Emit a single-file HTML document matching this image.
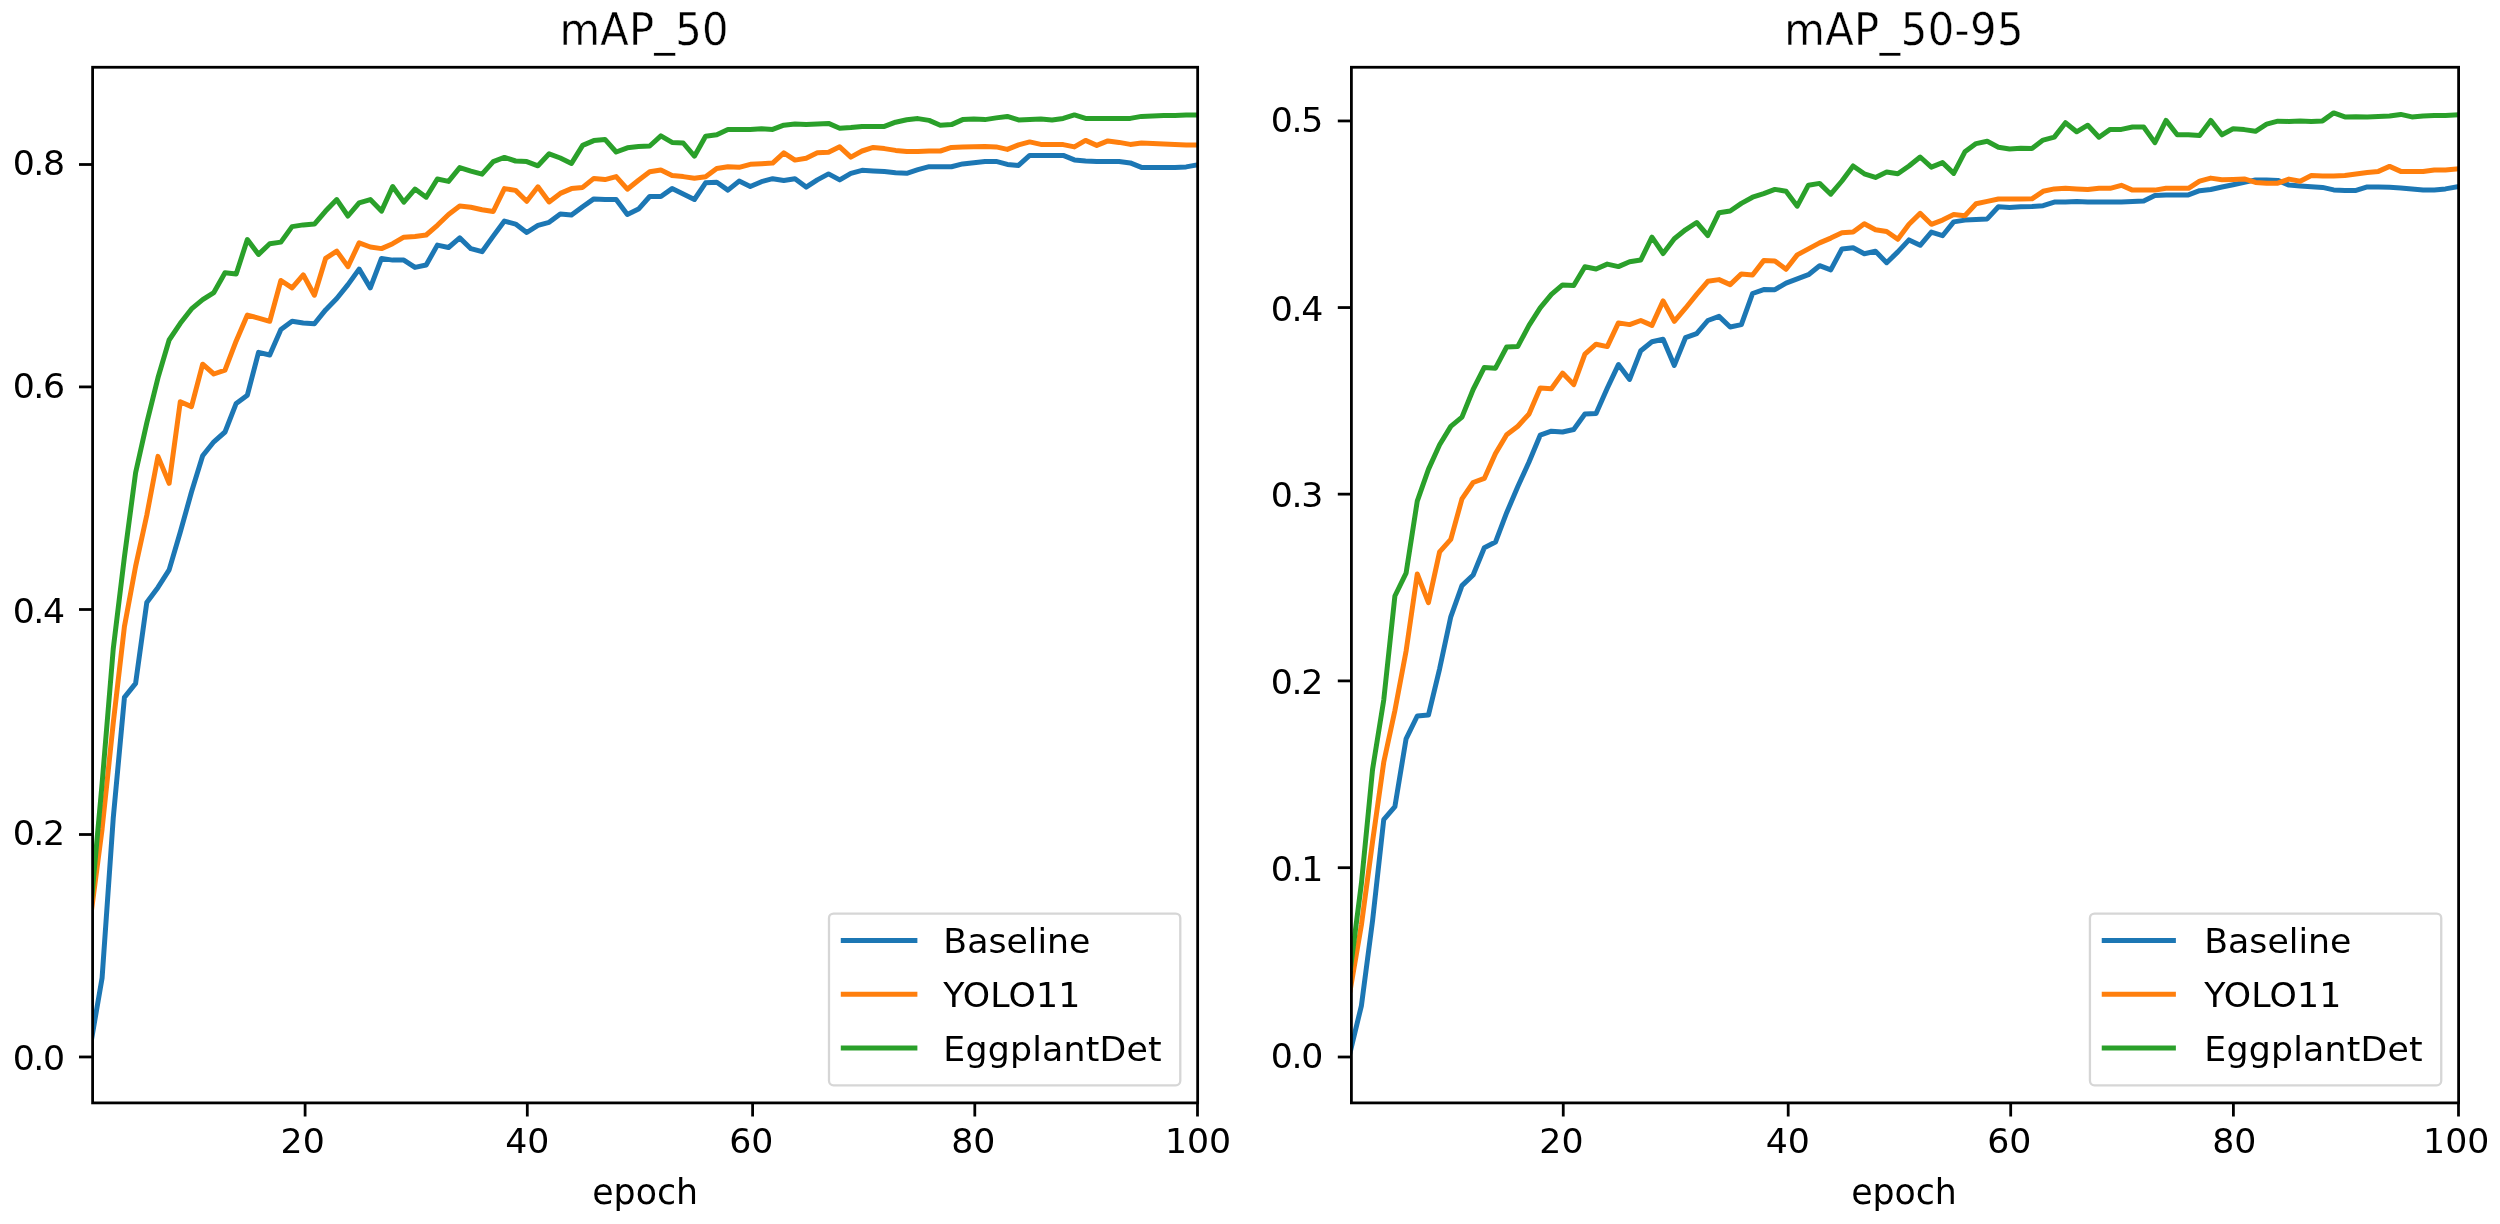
<!DOCTYPE html>
<html lang="en"><head><meta charset="utf-8"><title>mAP curves</title>
<style>
html,body{margin:0;padding:0;background:#fff;}
body{width:2500px;height:1224px;overflow:hidden;}
svg{display:block;}
.t{fill:#000;stroke:#fff;stroke-width:0.0px;paint-order:fill stroke;}
.tt{stroke-width:0.4px;}
</style></head><body>
<svg width="2500" height="1224" viewBox="0 0 2500 1224" font-family="'DejaVu Sans', 'Liberation Sans', sans-serif">
<defs><filter id="soft" x="0" y="0" width="2500" height="1224" filterUnits="userSpaceOnUse"><feGaussianBlur stdDeviation="0.6"/></filter></defs>
<rect width="2500" height="1224" fill="#fff"/>
<g filter="url(#soft)">
<rect width="2500" height="1224" fill="#fff"/>
<clipPath id="clip1"><rect x="92.6" y="67.26" width="1105.05" height="1035.64"/></clipPath>
<g clip-path="url(#clip1)" fill="none" stroke-width="5.0" stroke-linejoin="round" stroke-linecap="square">
<polyline stroke="#1f77b4" points="90.9,1043 102.08,978 113.25,818.09 124.43,697.4 135.6,683.4 146.78,602.6 157.96,587.46 169.13,569.9 180.31,532.07 191.48,492.04 202.66,455.79 213.84,441.8 225.01,432 236.19,403.4 247.36,395.2 258.54,352.4 269.72,355 280.89,329.4 292.07,321.3 303.24,323 314.42,323.8 325.6,309.9 336.77,298.5 347.95,284.6 359.12,269.1 370.3,287.9 381.48,258.4 392.65,260.1 403.83,260.1 415,267.4 426.18,265 437.36,245.1 448.53,247.5 459.71,237.9 470.88,248.7 482.06,251.7 493.24,236.1 504.41,221.1 515.59,224.1 526.76,232.5 537.94,225.3 549.12,222.3 560.29,213.9 571.47,215.1 582.64,206.7 593.82,198.9 605,199.5 616.17,199.5 627.35,214.5 638.52,209.1 649.7,196.5 660.88,196.5 672.05,188.6 683.23,194 694.4,199.5 705.58,182.8 716.76,182.3 727.93,190.1 739.11,181.1 750.28,186.5 761.46,181.7 772.64,178.7 783.81,180.5 794.99,178.7 806.16,187.1 817.34,179.9 828.52,173.9 839.69,179.9 850.87,173.3 862.04,170.3 873.22,170.9 884.4,171.5 895.57,172.7 906.75,173.3 917.92,169.7 929.1,166.7 940.28,166.7 951.45,166.7 962.63,163.9 973.8,162.7 984.98,161.6 996.16,161.4 1007.33,164.4 1018.51,165.4 1029.68,155.4 1040.86,155.4 1052.04,155.4 1063.21,155.4 1074.39,159.9 1085.56,160.9 1096.74,161.4 1107.92,161.4 1119.09,161.4 1130.27,162.9 1141.44,167.4 1152.62,167.6 1163.8,167.6 1174.97,167.6 1186.15,166.9 1197.32,164.9"/>
<polyline stroke="#ff7f0e" points="90.9,915 102.08,829.06 113.25,722.98 124.43,626.45 135.6,566.35 146.78,515.19 157.96,456.4 169.13,483.3 180.31,401.7 191.48,406.6 202.66,364.2 213.84,374 225.01,370.2 236.19,340.9 247.36,315.1 258.54,318.1 269.72,321.3 280.89,280.5 292.07,287.9 303.24,274.8 314.42,295.2 325.6,258.4 336.77,251.1 347.95,266.6 359.12,242.9 370.3,247 381.48,248.6 392.65,243.7 403.83,237.2 415,236.4 426.18,235 437.36,225.3 448.53,214.5 459.71,206.1 470.88,207.3 482.06,209.7 493.24,211.5 504.41,188.6 515.59,190.4 526.76,201.3 537.94,186.8 549.12,201.9 560.29,193.4 571.47,188.6 582.64,187.4 593.82,178.4 605,179.6 616.17,176.6 627.35,189.2 638.52,180.2 649.7,171.8 660.88,170 672.05,175.4 683.23,176.6 694.4,178.2 705.58,176.8 716.76,168.5 727.93,166.7 739.11,167.3 750.28,164.3 761.46,163.7 772.64,163.1 783.81,152.8 794.99,160.1 806.16,158.3 817.34,152.8 828.52,152.2 839.69,146.8 850.87,157.1 862.04,151 873.22,147.4 884.4,148.6 895.57,150.4 906.75,151.6 917.92,151.6 929.1,151 940.28,151 951.45,147.4 962.63,146.9 973.8,146.7 984.98,146.4 996.16,146.9 1007.33,149.4 1018.51,144.9 1029.68,141.9 1040.86,144.4 1052.04,144.4 1063.21,144.6 1074.39,146.9 1085.56,140.4 1096.74,145.4 1107.92,140.9 1119.09,142.4 1130.27,144.4 1141.44,142.9 1152.62,143.4 1163.8,143.9 1174.97,144.4 1186.15,144.9 1197.32,144.9"/>
<polyline stroke="#2ca02c" points="90.9,907.19 102.08,783.64 113.25,648.86 124.43,556.88 135.6,472.77 146.78,422.83 157.96,377.83 169.13,340 180.31,323.3 191.48,308.95 202.66,299.6 213.84,292.54 225.01,272.7 236.19,273.9 247.36,239.6 258.54,254.4 269.72,243.7 280.89,242.1 292.07,226.6 303.24,224.9 314.42,224.1 325.6,211.1 336.77,199.6 347.95,216 359.12,202.9 370.3,199.6 381.48,211.1 392.65,186.5 403.83,202.1 415,189.1 426.18,197.2 437.36,179 448.53,181.4 459.71,167.6 470.88,171.2 482.06,174.2 493.24,161.6 504.41,157.4 515.59,161 526.76,161.6 537.94,165.8 549.12,153.8 560.29,158 571.47,163.4 582.64,145.4 593.82,140.6 605,139.4 616.17,152 627.35,147.8 638.52,146.6 649.7,146 660.88,135.8 672.05,142.4 683.23,143 694.4,156.2 705.58,136.2 716.76,134.8 727.93,129.4 739.11,129.4 750.28,129.4 761.46,128.8 772.64,129.4 783.81,125.2 794.99,124 806.16,124.6 817.34,124 828.52,123.4 839.69,128.2 850.87,127.6 862.04,126.4 873.22,126.4 884.4,126.4 895.57,122.2 906.75,119.8 917.92,118.6 929.1,120.4 940.28,125.2 951.45,124.6 962.63,119.6 973.8,119 984.98,119.6 996.16,117.9 1007.33,116.4 1018.51,119.9 1029.68,119.4 1040.86,118.9 1052.04,119.9 1063.21,118.4 1074.39,114.9 1085.56,118.4 1096.74,118.4 1107.92,118.4 1119.09,118.4 1130.27,118.4 1141.44,116.4 1152.62,115.9 1163.8,115.6 1174.97,115.4 1186.15,115.1 1197.32,114.9"/>
</g>
<rect x="828.99" y="913.6" width="351.3" height="171.7" rx="4.5" ry="4.5" fill="#fff" fill-opacity="0.8" stroke="#d6d6d6" stroke-width="2.3"/>
<line x1="843.29" y1="940.6" x2="914.89" y2="940.6" stroke="#1f77b4" stroke-width="5.0" stroke-linecap="square"/>
<text class="t" transform="translate(943.33,952.6) scale(1,0.96)" font-size="34.72">Baseline</text>
<line x1="843.29" y1="994.3" x2="914.89" y2="994.3" stroke="#ff7f0e" stroke-width="5.0" stroke-linecap="square"/>
<text class="t" transform="translate(943.33,1007.2) scale(1,0.96)" letter-spacing="0.15" font-size="34.72">YOLO11</text>
<line x1="843.29" y1="1048" x2="914.89" y2="1048" stroke="#2ca02c" stroke-width="5.0" stroke-linecap="square"/>
<text class="t" transform="translate(943.33,1060.9) scale(1,0.96)" letter-spacing="0.22" font-size="34.72">EggplantDet</text>
<g stroke="#000" stroke-width="2.78" fill="none">
<line x1="305.1" y1="1102.9" x2="305.1" y2="1116.5"/>
<line x1="527.3" y1="1102.9" x2="527.3" y2="1116.5"/>
<line x1="752.6" y1="1102.9" x2="752.6" y2="1116.5"/>
<line x1="974.8" y1="1102.9" x2="974.8" y2="1116.5"/>
<line x1="1197.5" y1="1102.9" x2="1197.5" y2="1116.5"/>
<line x1="92.6" y1="1056.96" x2="79" y2="1056.96"/>
<line x1="92.6" y1="834.5" x2="79" y2="834.5"/>
<line x1="92.6" y1="609.5" x2="79" y2="609.5"/>
<line x1="92.6" y1="386.9" x2="79" y2="386.9"/>
<line x1="92.6" y1="164.5" x2="79" y2="164.5"/>
<rect x="92.6" y="67.26" width="1105.05" height="1035.64" stroke-linejoin="miter"/>
</g>
<g font-size="34.72">
<text class="t" transform="translate(302.7,1152.5) scale(1,0.96)" text-anchor="middle">20</text>
<text class="t" transform="translate(527.25,1152.5) scale(1,0.96)" text-anchor="middle">40</text>
<text class="t" transform="translate(751.35,1152.5) scale(1,0.96)" text-anchor="middle">60</text>
<text class="t" transform="translate(973.3,1152.5) scale(1,0.96)" text-anchor="middle">80</text>
<text class="t" transform="translate(1198,1152.5) scale(1,0.96)" text-anchor="middle">100</text>
<text class="t" transform="translate(12.65,1070.2) scale(1,0.96)" letter-spacing="-1.4">0.0</text>
<text class="t" transform="translate(12.65,845) scale(1,0.96)" letter-spacing="-1.4">0.2</text>
<text class="t" transform="translate(12.65,622.6) scale(1,0.96)" letter-spacing="-1.4">0.4</text>
<text class="t" transform="translate(12.65,397.5) scale(1,0.96)" letter-spacing="-1.4">0.6</text>
<text class="t" transform="translate(12.65,175.1) scale(1,0.96)" letter-spacing="-1.4">0.8</text>
<text class="t" transform="translate(645.12,1203.6) scale(1,1.0)" text-anchor="middle">epoch</text>
</g>
<text class="t tt" transform="translate(644.12,45.2) scale(1,1.07)" text-anchor="middle" font-size="41.67" letter-spacing="0.2">mAP_50</text>
<clipPath id="clip2"><rect x="1351.4" y="67.26" width="1107.2" height="1035.64"/></clipPath>
<g clip-path="url(#clip2)" fill="none" stroke-width="5.0" stroke-linejoin="round" stroke-linecap="square">
<polyline stroke="#1f77b4" points="1350.2,1051.86 1361.38,1005.8 1372.55,920.77 1383.73,819.7 1394.9,806.6 1406.08,738.8 1417.26,716 1428.43,715.1 1439.61,668.8 1450.78,616.81 1461.96,585.66 1473.14,574.97 1484.31,547.8 1495.49,542.1 1506.66,512.7 1517.84,486.5 1529.02,462 1540.19,435.2 1551.37,431.2 1562.54,432 1573.72,429.5 1584.9,414 1596.07,413.4 1607.25,388.3 1618.42,364.6 1629.6,379.4 1640.78,350.7 1651.95,341.7 1663.13,339.3 1674.3,365.4 1685.48,337.7 1696.66,333.6 1707.83,320.5 1719.01,316.4 1730.18,327 1741.36,324.6 1752.54,293.5 1763.71,289.6 1774.89,289.7 1786.06,283.1 1797.24,278.9 1808.42,274.7 1819.59,265.7 1830.77,269.9 1841.94,248.9 1853.12,247.7 1864.3,253.7 1875.47,251.3 1886.65,262.7 1897.82,251.9 1909,239.9 1920.18,245.3 1931.35,232.1 1942.53,235.7 1953.7,221.9 1964.88,220.1 1976.06,219.5 1987.23,218.9 1998.41,206.8 2009.58,207.4 2020.76,206.8 2031.94,206.6 2043.11,205.7 2054.29,202.1 2065.46,202.1 2076.64,201.5 2087.82,202.1 2098.99,202.1 2110.17,202.1 2121.34,202.1 2132.52,201.5 2143.7,200.9 2154.87,195.5 2166.05,194.9 2177.22,194.9 2188.4,194.9 2199.58,190.7 2210.75,189.5 2221.93,187 2233.1,184.8 2244.28,182.4 2255.46,179.9 2266.63,179.9 2277.81,180.4 2288.98,185.1 2300.16,185.9 2311.34,186.7 2322.51,187.4 2333.69,189.9 2344.86,190.4 2356.04,190.4 2367.22,186.9 2378.39,186.9 2389.57,187.2 2400.74,187.9 2411.92,188.9 2423.1,189.9 2434.27,189.9 2445.45,188.9 2456.62,186.9"/>
<polyline stroke="#ff7f0e" points="1350.2,990 1361.38,925.12 1372.55,841.67 1383.73,762.33 1394.9,710.54 1406.08,651.14 1417.26,574 1428.43,602.6 1439.61,551.9 1450.78,539.4 1461.96,498.9 1473.14,482.5 1484.31,478.4 1495.49,453.5 1506.66,434.8 1517.84,426.2 1529.02,414 1540.19,387.9 1551.37,388.7 1562.54,373.1 1573.72,384.6 1584.9,354.2 1596.07,344.2 1607.25,346.6 1618.42,322.9 1629.6,324.6 1640.78,320.5 1651.95,325.4 1663.13,300.9 1674.3,321.3 1685.48,308.2 1696.66,294.4 1707.83,281.3 1719.01,279.6 1730.18,284.6 1741.36,273.9 1752.54,275 1763.71,260.6 1774.89,260.9 1786.06,269.3 1797.24,254.9 1808.42,248.9 1819.59,242.9 1830.77,238.1 1841.94,232.7 1853.12,232.1 1864.3,223.7 1875.47,229.7 1886.65,231.5 1897.82,239.3 1909,224.3 1920.18,213.4 1931.35,224.3 1942.53,220.1 1953.7,214.6 1964.88,215.8 1976.06,203.8 1987.23,201.4 1998.41,199 2009.58,199 2020.76,199 2031.94,198.8 2043.11,191.3 2054.29,188.9 2065.46,188.3 2076.64,188.9 2087.82,189.5 2098.99,188.3 2110.17,188.3 2121.34,185.3 2132.52,190.1 2143.7,190.1 2154.87,190.1 2166.05,188.3 2177.22,188.3 2188.4,188.3 2199.58,181.1 2210.75,178.1 2221.93,179.7 2233.1,179.4 2244.28,178.9 2255.46,182.4 2266.63,183.2 2277.81,183.2 2288.98,179.1 2300.16,181.3 2311.34,175.6 2322.51,175.9 2333.69,175.9 2344.86,175.4 2356.04,173.9 2367.22,172.4 2378.39,171.4 2389.57,166.4 2400.74,171.4 2411.92,171.4 2423.1,171.4 2434.27,169.9 2445.45,169.9 2456.62,168.9"/>
<polyline stroke="#2ca02c" points="1350.2,971 1361.38,883.66 1372.55,769.48 1383.73,700.07 1394.9,596 1406.08,573.1 1417.26,501.2 1428.43,469.4 1439.61,444.8 1450.78,426.34 1461.96,417.16 1473.14,389.5 1484.31,367.4 1495.49,368.2 1506.66,347 1517.84,346.4 1529.02,325.3 1540.19,307.8 1551.37,294.4 1562.54,284.9 1573.72,285.6 1584.9,266.7 1596.07,269 1607.25,264.1 1618.42,266.6 1629.6,261.7 1640.78,260 1651.95,237.2 1663.13,253.5 1674.3,238.8 1685.48,229.8 1696.66,222.5 1707.83,235.5 1719.01,212.7 1730.18,211 1741.36,203.4 1752.54,197.2 1763.71,193.6 1774.89,189.4 1786.06,191.2 1797.24,206.2 1808.42,185.2 1819.59,183.4 1830.77,194.2 1841.94,181 1853.12,166 1864.3,173.8 1875.47,177.4 1886.65,172 1897.82,173.8 1909,166 1920.18,157 1931.35,167.1 1942.53,162.6 1953.7,173.4 1964.88,151.8 1976.06,143.6 1987.23,141.2 1998.41,147.2 2009.58,149 2020.76,148.2 2031.94,148.4 2043.11,140.1 2054.29,137.1 2065.46,122.7 2076.64,131.8 2087.82,125.2 2098.99,137.2 2110.17,129.4 2121.34,129.4 2132.52,127 2143.7,127 2154.87,142.6 2166.05,120.4 2177.22,134.8 2188.4,134.8 2199.58,135.4 2210.75,120.4 2221.93,134.8 2233.1,128.8 2244.28,129.6 2255.46,131.3 2266.63,124.2 2277.81,121.2 2288.98,121.4 2300.16,120.9 2311.34,121.4 2322.51,120.9 2333.69,112.9 2344.86,116.9 2356.04,116.7 2367.22,116.9 2378.39,116.4 2389.57,115.9 2400.74,114.4 2411.92,116.9 2423.1,115.9 2434.27,115.6 2445.45,115.4 2456.62,114.9"/>
</g>
<rect x="2089.94" y="913.6" width="351.3" height="171.7" rx="4.5" ry="4.5" fill="#fff" fill-opacity="0.8" stroke="#d6d6d6" stroke-width="2.3"/>
<line x1="2104.24" y1="940.6" x2="2173.39" y2="940.6" stroke="#1f77b4" stroke-width="5.0" stroke-linecap="square"/>
<text class="t" transform="translate(2204.28,952.6) scale(1,0.96)" font-size="34.72">Baseline</text>
<line x1="2104.24" y1="994.3" x2="2173.39" y2="994.3" stroke="#ff7f0e" stroke-width="5.0" stroke-linecap="square"/>
<text class="t" transform="translate(2204.28,1007.2) scale(1,0.96)" letter-spacing="0.15" font-size="34.72">YOLO11</text>
<line x1="2104.24" y1="1048" x2="2173.39" y2="1048" stroke="#2ca02c" stroke-width="5.0" stroke-linecap="square"/>
<text class="t" transform="translate(2204.28,1060.9) scale(1,0.96)" letter-spacing="0.22" font-size="34.72">EggplantDet</text>
<g stroke="#000" stroke-width="2.78" fill="none">
<line x1="1563.25" y1="1102.9" x2="1563.25" y2="1116.5"/>
<line x1="1788.2" y1="1102.9" x2="1788.2" y2="1116.5"/>
<line x1="2010.7" y1="1102.9" x2="2010.7" y2="1116.5"/>
<line x1="2233.4" y1="1102.9" x2="2233.4" y2="1116.5"/>
<line x1="2458.5" y1="1102.9" x2="2458.5" y2="1116.5"/>
<line x1="1351.4" y1="1057" x2="1337.8" y2="1057"/>
<line x1="1351.4" y1="867.7" x2="1337.8" y2="867.7"/>
<line x1="1351.4" y1="680.9" x2="1337.8" y2="680.9"/>
<line x1="1351.4" y1="494.15" x2="1337.8" y2="494.15"/>
<line x1="1351.4" y1="307.56" x2="1337.8" y2="307.56"/>
<line x1="1351.4" y1="120.95" x2="1337.8" y2="120.95"/>
<rect x="1351.4" y="67.26" width="1107.2" height="1035.64" stroke-linejoin="miter"/>
</g>
<g font-size="34.72">
<text class="t" transform="translate(1561.4,1152.5) scale(1,0.96)" text-anchor="middle">20</text>
<text class="t" transform="translate(1787.85,1152.5) scale(1,0.96)" text-anchor="middle">40</text>
<text class="t" transform="translate(2009.25,1152.5) scale(1,0.96)" text-anchor="middle">60</text>
<text class="t" transform="translate(2234.35,1152.5) scale(1,0.96)" text-anchor="middle">80</text>
<text class="t" transform="translate(2456.2,1152.5) scale(1,0.96)" text-anchor="middle">100</text>
<text class="t" transform="translate(1270.85,1067.5) scale(1,0.96)" letter-spacing="-1.4">0.0</text>
<text class="t" transform="translate(1270.85,881) scale(1,0.96)" letter-spacing="-1.4">0.1</text>
<text class="t" transform="translate(1270.85,694.15) scale(1,0.96)" letter-spacing="-1.4">0.2</text>
<text class="t" transform="translate(1270.85,507.3) scale(1,0.96)" letter-spacing="-1.4">0.3</text>
<text class="t" transform="translate(1270.85,320.9) scale(1,0.96)" letter-spacing="-1.4">0.4</text>
<text class="t" transform="translate(1270.85,131.6) scale(1,0.96)" letter-spacing="-1.4">0.5</text>
<text class="t" transform="translate(1904,1203.6) scale(1,1.0)" text-anchor="middle">epoch</text>
</g>
<text class="t tt" transform="translate(1904,45.2) scale(1,1.07)" text-anchor="middle" font-size="41.67" letter-spacing="0.4">mAP_50-95</text>
</g>
</svg>
</body></html>
